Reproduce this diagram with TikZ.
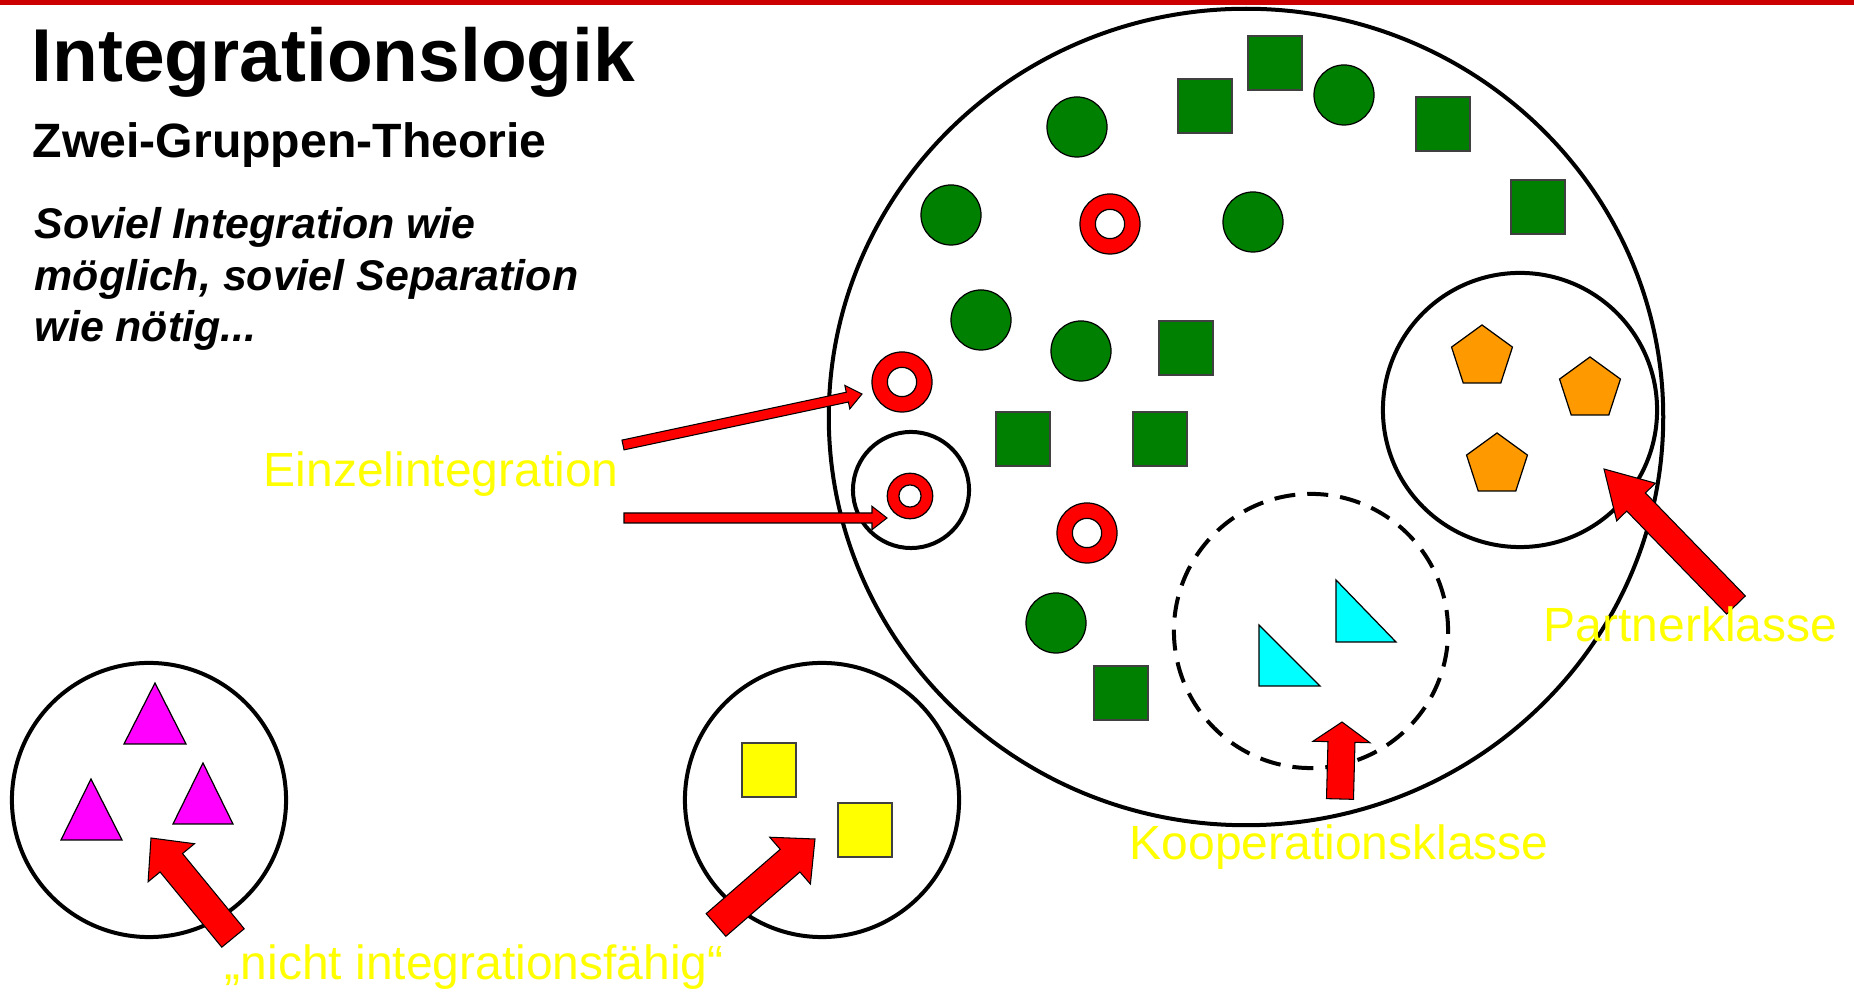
\documentclass[tikz,border=0pt]{standalone}
\usepackage{fontspec}
\setmainfont{Liberation Sans}
\usepackage{xcolor}
\usetikzlibrary{shapes.geometric, calc, positioning}
\definecolor{SlideRed}{HTML}{CC0000}
\definecolor{DotGreen}{HTML}{008000}
\definecolor{RingRed}{HTML}{FF0000}
\definecolor{PentaOrange}{HTML}{FF9900}
\definecolor{TriCyan}{HTML}{00FFFF}
\definecolor{TriMagenta}{HTML}{FF00FF}
\definecolor{LabelYellow}{HTML}{FFFF00}
\tikzset{
    % Group outlines
    groupring/.style={
        circle,
        draw=black,
        line width=0.04cm,
        minimum size=2.74cm,
        inner sep=0pt
    },
    % Members
    greendot/.style={
        circle,
        draw=black,
        fill=DotGreen,
        line width=0.35pt,
        minimum size=0.6cm,
        inner sep=0pt
    },
    greensquare/.style={
        rectangle,
        draw=black!75,
        fill=DotGreen,
        line width=0.35pt,
        minimum size=0.54cm,
        inner sep=0pt
    },
    yellowsquare/.style={
        greensquare,
        fill=LabelYellow
    },
    redring/.style={
        circle,
        draw=black,
        fill=RingRed,
        line width=0.35pt,
        minimum size=#1,
        inner sep=0pt,
        path picture={\draw[fill=white, line width=0.35pt]
            (path picture bounding box.center) circle[radius=#1/4.1];}
    },
    redring/.default=0.6cm,
    pentagon/.style={
        regular polygon,
        regular polygon sides=5,
        draw=black,
        fill=PentaOrange,
        line width=0.35pt,
        minimum size=0.64cm,
        inner sep=0pt
    },
    triangleshape/.style={
        draw=black,
        line width=0.35pt,
        line join=miter
    },
    % Arrow styles
    redarrow/.style={
        draw=black,
        fill=RingRed,
        line width=0.3pt,
        line join=miter
    },
    % Text styles
    yellowlabel/.style={
        font=\fontsize{13.65pt}{16pt}\selectfont,
        text=LabelYellow,
        inner sep=0pt,
        anchor=base west
    }
}
% tail, tip, half shaft, half head, head length
\newcommand{\blockarrow}[5]{%
    \coordinate (headbase) at ($(#2)!#5!(#1)$);
    \draw[redarrow] ($(#1)!#3!90:(#2)$) -- ($(headbase)!#3!90:(#2)$)
        -- ($(headbase)!#4!90:(#2)$) -- (#2) -- ($(headbase)!#4!-90:(#2)$)
        -- ($(headbase)!#3!-90:(#2)$) -- ($(#1)!#3!-90:(#2)$) -- cycle;
}
\begin{document}
\begin{tikzpicture}[x=0.01cm, y=-0.01cm]
    \useasboundingbox (0,0) rectangle (1854,992);
    \fill[SlideRed] (0,0) rectangle (1854,5);

    % Headings
    \node[font=\bfseries\fontsize{21.3pt}{25pt}\selectfont, inner sep=0pt, anchor=base west] (title) at (31,82) {Integrationslogik};
    \node[font=\bfseries\fontsize{13.7pt}{16pt}\selectfont, inner sep=0pt, anchor=base west] (subtitle) at (32,158) {Zwei-Gruppen-Theorie};
    \node[font=\bfseries\itshape\fontsize{12.2pt}{14.7pt}\selectfont, inner sep=0pt, anchor=base west, align=left] (motto) at (34,342)
        {Soviel Integration wie\\möglich, soviel Separation\\wie nötig...};

    % Society
    \node[ellipse, draw=black, line width=0.04cm, minimum width=8.34cm, minimum height=8.16cm, inner sep=0pt] (society) at (1246,417) {};
    \node[groupring] (partner) at (1520,410) {};
    \node[groupring, dashed, dash pattern=on 0.21cm off 0.12cm] (cooperation) at (1311,631) {};
    \node[groupring, minimum size=1.16cm] (single) at (911,490) {};

    % Green majority
    \node[greendot] (dot1) at (1077,127) {};
    \node[greendot] (dot2) at (1344,95) {};
    \node[greendot] (dot3) at (951,215) {};
    \node[greendot] (dot4) at (1253,222) {};
    \node[greendot] (dot5) at (981,320) {};
    \node[greendot] (dot6) at (1081,351) {};
    \node[greendot] (dot7) at (1056,623) {};

    \node[greensquare] (sq1) at (1205,106) {};
    \node[greensquare] (sq2) at (1275,63) {};
    \node[greensquare] (sq3) at (1443,124) {};
    \node[greensquare] (sq4) at (1538,207) {};
    \node[greensquare] (sq5) at (1186,348) {};
    \node[greensquare] (sq6) at (1023,439) {};
    \node[greensquare] (sq7) at (1160,439) {};
    \node[greensquare] (sq8) at (1121,693) {};

    % Red rings
    \node[redring] (ring1) at (1110,224) {};
    \node[redring] (ring2) at (902,382) {};
    \node[redring=0.455cm] (ring3) at (910,496) {};
    \node[redring] (ring4) at (1087,533) {};

    % Partner class
    \node[pentagon] (penta1) at (1482,357) {};
    \node[pentagon] (penta2) at (1590,389) {};
    \node[pentagon] (penta3) at (1497,465) {};

    % Cooperation class
    \draw[triangleshape, fill=TriCyan] (1336,580) -- (1336,642) -- (1396,642) -- cycle;
    \draw[triangleshape, fill=TriCyan] (1259,625) -- (1259,686) -- (1320,686) -- cycle;

    % Outside groups
    \node[groupring] (magentagroup) at (149,800) {};
    \draw[triangleshape, fill=TriMagenta] (155,683) -- (186,744) -- (124,744) -- cycle;
    \draw[triangleshape, fill=TriMagenta] (91,779) -- (122,840) -- (61,840) -- cycle;
    \draw[triangleshape, fill=TriMagenta] (203,763) -- (233,824) -- (173,824) -- cycle;

    \node[groupring] (yellowgroup) at (822,800) {};
    \node[yellowsquare] (ysq1) at (769,770) {};
    \node[yellowsquare] (ysq2) at (865,830) {};

    % Arrows
    \coordinate (einzeltail1) at (623,445);
    \coordinate (einzeltip1) at (862,394);
    \coordinate (einzeltail2) at (624,518);
    \coordinate (einzeltip2) at (887,518);
    \coordinate (partnertail) at (1736,605);
    \coordinate (partnertip) at (1604,469);
    \coordinate (kooptail) at (1340,799);
    \coordinate (kooptip) at (1342,722);
    \coordinate (magentatail) at (233,938);
    \coordinate (magentatip) at (151,838);
    \coordinate (yellowtail) at (716,925);
    \coordinate (yellowtip) at (815,839);

    \blockarrow{einzeltail1}{einzeltip1}{0.05cm}{0.12cm}{0.15cm}
    \blockarrow{einzeltail2}{einzeltip2}{0.05cm}{0.117cm}{0.15cm}
    \blockarrow{partnertail}{partnertip}{0.13cm}{0.27cm}{0.46cm}
    \blockarrow{kooptail}{kooptip}{0.135cm}{0.285cm}{0.2cm}
    \blockarrow{magentatail}{magentatip}{0.145cm}{0.3cm}{0.32cm}
    \blockarrow{yellowtail}{yellowtip}{0.15cm}{0.31cm}{0.33cm}

    % Labels
    \node[yellowlabel] (einzellabel) at (263,487) {Einzelintegration};
    \node[yellowlabel] (partnerlabel) at (1543,642) {Partnerklasse};
    \node[yellowlabel] (kooplabel) at (1129,860) {Kooperationsklasse};
    \node[yellowlabel] (nichtlabel) at (224,980) {„nicht integrationsfähig“};
\end{tikzpicture}
\end{document}
